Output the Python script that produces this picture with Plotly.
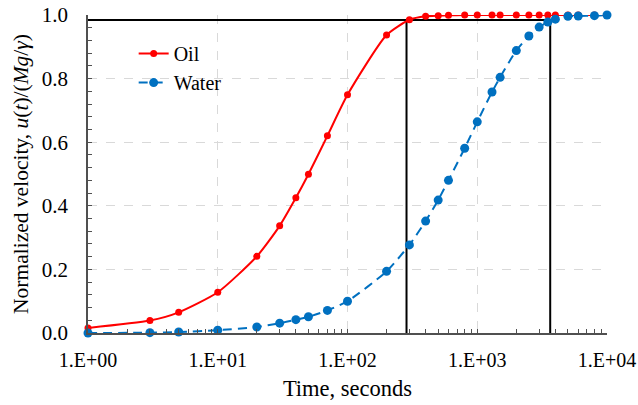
import plotly.graph_objects as go

# ---- data ----
oil_t = [1, 3, 5, 10, 20, 30, 40, 50, 70, 100, 200, 300, 400, 500, 600, 800, 1000,
         1300, 1500, 2000, 2500, 3000, 3500, 4000, 5000, 6000, 8000, 10000]
oil_v = [0.016, 0.039, 0.065, 0.128, 0.241, 0.337, 0.425, 0.499, 0.620, 0.749, 0.937,
         0.985, 0.996, 0.998, 0.999, 1.0, 1.0, 1.0, 1.0, 1.0, 1.0, 1.0, 1.0, 1.0,
         1.0, 1.0, 1.0, 1.0]

water_t = [1, 3, 5, 10, 20, 30, 40, 50, 70, 100, 200, 300, 400, 500, 600, 800, 1000,
           1300, 1500, 2000, 2500, 3000, 3500, 4000, 5000, 6000, 8000, 10000]
water_v = [0.0, 0.001, 0.003, 0.009, 0.019, 0.031, 0.042, 0.051, 0.071, 0.100, 0.194,
           0.277, 0.352, 0.418, 0.480, 0.581, 0.664, 0.758, 0.804, 0.888, 0.934, 0.962,
           0.978, 0.987, 0.996, 0.997, 0.998, 1.0]

# reference box: 98.4% level, t = 285 s (oil) and t = 3650 s (water)
ref_level = 0.984
ref_t_oil = 285
ref_t_water = 3650

x_tickvals = [1, 10, 100, 1000, 10000]
x_ticktext = ["1.E+00", "1.E+01", "1.E+02", "1.E+03", "1.E+04"]
x_minor_vals = [m * d for d in [1, 10, 100, 1000] for m in range(2, 10)]

FONT = "Liberation Serif, Times New Roman, serif"
AXC = "#505050"

fig = go.Figure()

# black reference lines
box_x = [1, ref_t_water, None, ref_t_oil, ref_t_oil, None, ref_t_water, ref_t_water]
box_y = [ref_level, ref_level, None, 0, ref_level, None, 0, ref_level]
fig.add_trace(go.Scatter(x=box_x, y=box_y, mode="lines",
                         line=dict(color="black", width=2),
                         showlegend=False, hoverinfo="skip", cliponaxis=False))

fig.add_trace(go.Scatter(x=oil_t, y=oil_v, name="Oil", mode="lines+markers",
                         line=dict(color="#FF0000", width=2, shape="spline", smoothing=0.6),
                         marker=dict(color="#FF0000", size=7),
                         cliponaxis=False))
fig.add_trace(go.Scatter(x=water_t, y=water_v, name="Water", mode="lines+markers",
                         line=dict(color="#0070C0", width=2, dash="9px,6px",
                                   shape="spline", smoothing=0.6),
                         marker=dict(color="#0070C0", size=9),
                         cliponaxis=False))

fig.update_layout(
    width=638, height=405,
    margin=dict(l=88, r=31, t=15, b=72, autoexpand=False),
    paper_bgcolor="white", plot_bgcolor="white",
    font=dict(family=FONT, color="black", size=20),
    showlegend=True,
    legend=dict(x=0.088, y=0.94, xanchor="left", yanchor="top",
                bgcolor="rgba(0,0,0,0)", font=dict(family=FONT, size=20),
                tracegroupgap=2),
)

fig.update_xaxes(
    type="log", range=[0, 4], automargin=False,
    tickvals=x_tickvals, ticktext=x_ticktext,
    tickfont=dict(family=FONT, size=20),
    ticks="inside", ticklen=4, tickcolor=AXC, ticklabelstandoff=8,
    showline=True, linecolor=AXC, linewidth=1.5,
    showgrid=True, gridcolor="#D9D9D9", griddash="dash", gridwidth=1,
    minor=dict(tickvals=x_minor_vals, ticks="inside", ticklen=4, tickcolor=AXC,
               showgrid=False),
    zeroline=False,
    title=dict(text="Time, seconds", font=dict(family=FONT, size=22.5), standoff=10),
)
fig.update_yaxes(
    range=[0, 1], dtick=0.2, tickformat=".1f", automargin=False,
    tickfont=dict(family=FONT, size=21),
    ticks="inside", ticklen=4, tickcolor=AXC, ticklabelstandoff=14,
    showline=True, linecolor=AXC, linewidth=1.5,
    showgrid=True, gridcolor="#D9D9D9", griddash="dash", gridwidth=1,
    minor=dict(ticks="inside", ticklen=4, dtick=0.04, tickcolor=AXC, showgrid=False),
    zeroline=False,
    title=dict(text="Normalized velocity, <i>u</i>(<i>t</i>)/(<i>Mg</i>/<i>γ</i>)",
               font=dict(family=FONT, size=21.5), standoff=7),
)

fig.write_html("out.html")
